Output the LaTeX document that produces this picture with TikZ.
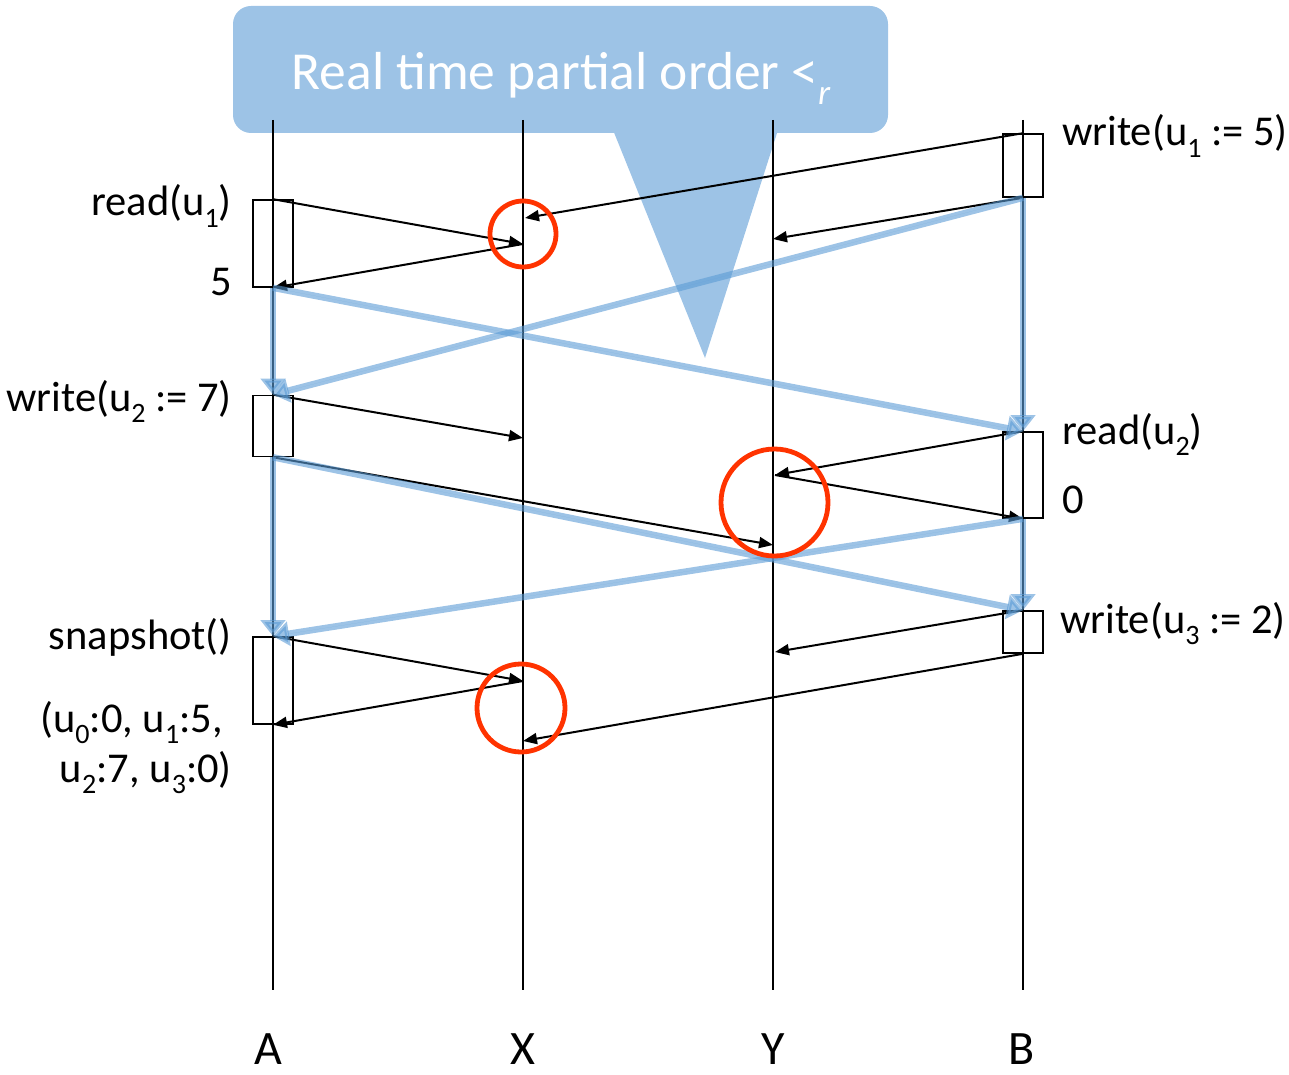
\documentclass[tikz,border=0pt]{standalone}
\usepackage{fontspec}
\setmainfont{Carlito}
\usetikzlibrary{arrows.meta}
\definecolor{calloutblue}{HTML}{9DC3E6}
\definecolor{orderblue}{HTML}{5B9BD5}
\definecolor{circred}{HTML}{FF3300}
\newcommand{\dn}[1]{\raisebox{-0.28em}{\scalebox{0.66}{#1}}}
\begin{document}
\begin{tikzpicture}[x=1pt,y=-1pt,
  life/.style={line width=2pt},
  actbox/.style={draw, line width=1.6pt, minimum width=40pt, inner sep=0pt},
  msg/.style={line width=2pt, -{Triangle[length=14pt,width=11pt]}},
  rto/.style={line width=6.5pt, draw=orderblue, fill=orderblue, opacity=0.6, -{Triangle[length=16pt,width=24pt]}},
  ring/.style={draw=circred, line width=4.8pt, circle, inner sep=0pt},
  lab/.style={font=\fontsize{42.5}{50}\selectfont, inner sep=0pt},
  big/.style={font=\fontsize{48}{54}\selectfont, inner sep=0pt}]
\useasboundingbox (0,0) rectangle (1289,1075);

% callout
\node[fill=calloutblue, rounded corners=18pt, minimum width=655pt, minimum height=127pt, inner sep=0pt] (callout) at (560.5,69.5) {};
\fill[calloutblue] (613,130) -- (705,358) -- (778,130) -- cycle;
\node[font=\fontsize{53.5}{60}\selectfont, text=white, inner sep=0pt, anchor=base] (title) at (561,90) {Real time partial order <\dn{\itshape r}};

% lifelines
\coordinate (At) at (273,120); \coordinate (Ab) at (273,990);
\coordinate (Xt) at (523,120); \coordinate (Xb) at (523,990);
\coordinate (Yt) at (773,120); \coordinate (Yb) at (773,990);
\coordinate (Bt) at (1023,120); \coordinate (Bb) at (1023,990);
\draw[life] (At) -- (Ab);
\draw[life] (Xt) -- (Xb);
\draw[life] (Yt) -- (Yb);
\draw[life] (Bt) -- (Bb);

% activation boxes
\node[actbox, minimum height=87pt] (ra) at (273,243.5) {};
\node[actbox, minimum height=61pt] (wa) at (273,426) {};
\node[actbox, minimum height=87pt] (sa) at (273,680.5) {};
\node[actbox, minimum height=63pt] (wb1) at (1023,165.5) {};
\node[actbox, minimum height=86pt] (rb) at (1023,475) {};
\node[actbox, minimum height=42pt] (wb3) at (1023,632) {};

% message points
\coordinate (x0) at (525,218);
\coordinate (x1) at (523,244);
\coordinate (y1) at (773,239);
\coordinate (x2) at (523,438);
\coordinate (y2) at (775,475);
\coordinate (y3) at (773,545);
\coordinate (x3) at (523,681);
\coordinate (y4) at (775,652);
\coordinate (x4) at (523,741);

% messages
\draw[msg] (ra.north) -- (x1);
\draw[msg] (x1) -- (ra.south);
\draw[msg] (wb1.north) -- (x0);
\draw[msg] (wb1.south) -- (y1);
\draw[msg] (wa.north) -- (x2);
\draw[msg] (wa.south) -- (y3);
\draw[msg] (rb.north) -- (y2);
\draw[msg] (y2) -- (rb.south);
\draw[msg] (sa.north) -- (x3);
\draw[msg] (x3) -- (sa.south);
\draw[msg] (wb3.north) -- (y4);
\draw[msg] (wb3.south) -- (x4);

% real-time order
\draw[rto] (ra.south) -- (wa.north);
\draw[rto] (ra.south) -- (rb.north);
\draw[rto] (wb1.south) -- (rb.north);
\draw[rto] (wb1.south) -- (wa.north);
\draw[rto] (wa.south) -- (sa.north);
\draw[rto] (wa.south) -- (wb3.north);
\draw[rto] (rb.south) -- (sa.north);
\draw[rto] (rb.south) -- (wb3.north);

% red circles
\node[ring, minimum size=66pt] (c1) at (523,234) {};
\node[ring, minimum size=107pt] (c2) at (774.5,502.5) {};
\node[ring, minimum size=88pt] (c3) at (521,708) {};

% labels
\node[lab, anchor=base east] (l1) at (232,216) {read(u\dn{1})};
\node[lab, anchor=base east] (l2) at (232,295) {5};
\node[lab, anchor=base east] (l3) at (232,411) {write(u\dn{2} := 7)};
\node[lab, anchor=base east] (l4) at (232,649) {snapshot()};
\node[lab, anchor=base east] (l5) at (223,732) {(u\dn{0}:0, u\dn{1}:5,};
\node[lab, anchor=base east] (l6) at (232,782) {u\dn{2}:7, u\dn{3}:0)};
\node[lab, anchor=base west] (r1) at (1062,146) {write(u\dn{1} := 5)};
\node[lab, anchor=base west] (r2) at (1062,444) {read(u\dn{2})};
\node[lab, anchor=base west] (r3) at (1062,513) {0};
\node[lab, anchor=base west] (r4) at (1060,633) {write(u\dn{3} := 2)};

\node[big, anchor=base] (nA) at (268,1064) {A};
\node[big, anchor=base] (nX) at (523,1064) {X};
\node[big, anchor=base] (nY) at (773,1064) {Y};
\node[big, anchor=base] (nB) at (1022,1064) {B};
\end{tikzpicture}
\end{document}
